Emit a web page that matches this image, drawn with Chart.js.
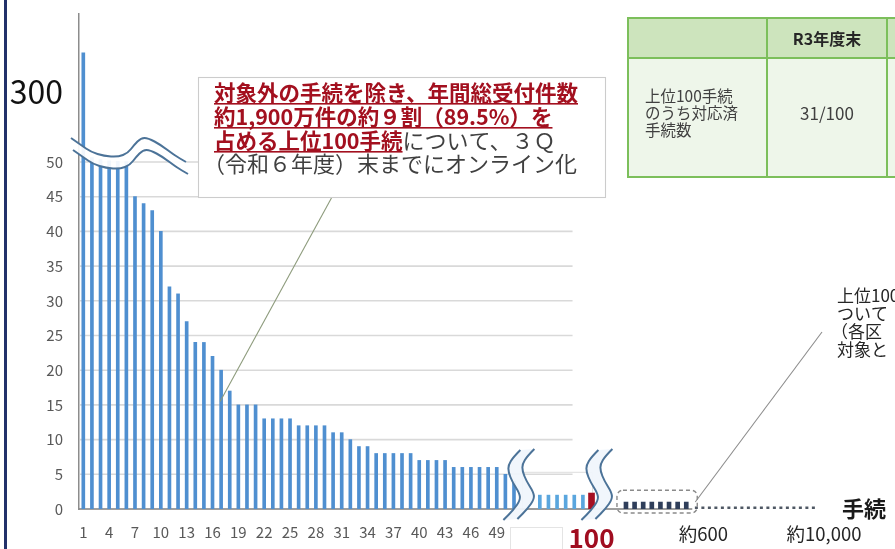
<!DOCTYPE html>
<html lang="ja">
<head>
<meta charset="utf-8">
<title>上位100手続のオンライン化</title>
<script src="https://cdn.jsdelivr.net/npm/chart.js@4.4.0/dist/chart.umd.min.js"></script>
<style>
  html, body { margin: 0; padding: 0; background: #fff; }
  canvas { display: block; }
</style>
</head>
<body>
<canvas id="procChart" width="895" height="549"></canvas>
<script>
// 手続ごとの年間受付件数（万件）: 上位51手続
const topCounts = [340, 120, 90, 70, 60, 55, 45, 44, 43, 40, 32, 31, 27, 24, 24, 22, 20, 17,
  15, 15, 15, 13, 13, 13, 13, 12, 12, 12, 12, 11, 11, 10, 9, 9, 8, 8, 8, 8, 8,
  7, 7, 7, 7, 6, 6, 6, 6, 6, 6, 5, 4];
// 94〜99位, 100位
const nearHundredCounts = [2, 2, 2, 2, 2, 2];
const hundredthCount = 2.3;
// 100位〜約600位（代表）
const beyondCounts = [1, 1, 1, 1, 1, 1, 1, 1];
// 約600位〜約10,000位
const tailLevel = 0.15;

const yTickValues = [0, 5, 10, 15, 20, 25, 30, 35, 40, 45, 50, 300];
const tailTickLabels = ['約600', '約10,000'];
const hundredRanks = ['94', '95', '96', '97', '98', '99', '100'];
const topRanks = topCounts.map((_, i) => String(i + 1));

function gap(n) {
  return Array(n).fill('');
}

// category slots along the x axis (gaps are the broken parts)
const categories = [].concat(topRanks, gap(2), hundredRanks, gap(3), gap(beyondCounts.length),
  gap(1), [tailTickLabels[0]], gap(13), [tailTickLabels[1]], gap(1));

const hundredStart = topRanks.length + 2;
const hundredIdx = hundredStart + nearHundredCounts.length;
const beyondStart = hundredIdx + 4;
const tailStart = beyondStart + beyondCounts.length;
const tailEnd = categories.indexOf(tailTickLabels[1]) - 1;

const blueData = categories.map((_, i) => {
  if (i < topCounts.length) return topCounts[i];
  if (i >= hundredStart && i < hundredIdx) return nearHundredCounts[i - hundredStart];
  return null;
});
const redData = categories.map((_, i) => (i === hundredIdx ? hundredthCount : null));
const darkData = categories.map((_, i) =>
  (i >= beyondStart && i < tailStart ? beyondCounts[i - beyondStart] : null));
const tailData = categories.map((_, i) => (i === tailStart || i === tailEnd ? tailLevel : null));

// Broken y axis: 0-50 linear, 50-240 squeezed, 240-380 linear again
const Y_LOW = 50, Y_HIGH = 240, Y_MAX = 380;
const LOW_SHARE = 0.701, BREAK_SHARE = 0.024;

function toDecimal(v) {
  if (v <= Y_LOW) return v / Y_LOW * LOW_SHARE;
  if (v <= Y_HIGH) return LOW_SHARE + (v - Y_LOW) / (Y_HIGH - Y_LOW) * BREAK_SHARE;
  return LOW_SHARE + BREAK_SHARE + (v - Y_HIGH) / (Y_MAX - Y_HIGH) * (1 - LOW_SHARE - BREAK_SHARE);
}

function fromDecimal(d) {
  if (d <= LOW_SHARE) return d / LOW_SHARE * Y_LOW;
  if (d <= LOW_SHARE + BREAK_SHARE) return Y_LOW + (d - LOW_SHARE) / BREAK_SHARE * (Y_HIGH - Y_LOW);
  return Y_HIGH + (d - LOW_SHARE - BREAK_SHARE) / (1 - LOW_SHARE - BREAK_SHARE) * (Y_MAX - Y_HIGH);
}

class BrokenScale extends Chart.LinearScale {
  getPixelForValue(value) {
    if (value === null || value === undefined) return NaN;
    return this.getPixelForDecimal(toDecimal(value));
  }
  getValueForPixel(pixel) {
    return fromDecimal(this.getDecimalForPixel(pixel));
  }
}
BrokenScale.id = 'broken';
BrokenScale.defaults = Chart.LinearScale.defaults;
Chart.register(BrokenScale);

const JP = '"Noto Sans CJK JP", "Noto Sans", sans-serif';
Chart.defaults.font.family = JP;

// Smooth curve through a list of points
function traceSmooth(ctx, pts, move) {
  if (move) ctx.moveTo(pts[0][0], pts[0][1]);
  else ctx.lineTo(pts[0][0], pts[0][1]);
  for (let i = 1; i < pts.length - 1; i++) {
    const mx = (pts[i][0] + pts[i + 1][0]) / 2;
    const my = (pts[i][1] + pts[i + 1][1]) / 2;
    ctx.quadraticCurveTo(pts[i][0], pts[i][1], mx, my);
  }
  const last = pts[pts.length - 1];
  ctx.lineTo(last[0], last[1]);
}

// Break symbol: two wavy lines with a light band between them
function drawBreak(ctx, ax, ay, shape, shift, fill) {
  const a = shape.map(p => [ax + p[0], ay + p[1]]);
  const b = shape.map(p => [ax + p[0] + shift[0], ay + p[1] + shift[1]]);
  ctx.save();
  ctx.beginPath();
  traceSmooth(ctx, a, true);
  traceSmooth(ctx, b.slice().reverse(), false);
  ctx.closePath();
  ctx.fillStyle = fill;
  ctx.fill();
  ctx.strokeStyle = '#4c7398';
  ctx.lineWidth = 2;
  ctx.beginPath();
  traceSmooth(ctx, a, true);
  ctx.stroke();
  ctx.beginPath();
  traceSmooth(ctx, b, true);
  ctx.stroke();
  ctx.restore();
}

const Y_WAVE = [[-8, -24], [2, -17], [12, -10], [25, -6], [39, -5], [49, -9], [55, -17],
  [62, -24], [69, -24], [82, -17], [95, -7], [107, 0]];
const X_WAVE = [[14, -59], [7, -52], [2, -44], [2, -37], [6, -27], [13, -16], [14, -9], [7, 1], [-3, 11]];

function line(ctx, x1, y1, x2, y2) {
  ctx.beginPath();
  ctx.moveTo(x1, y1);
  ctx.lineTo(x2, y2);
  ctx.stroke();
}

function roundRect(ctx, x, y, w, h, r) {
  ctx.beginPath();
  ctx.moveTo(x + r, y);
  ctx.arcTo(x + w, y, x + w, y + h, r);
  ctx.arcTo(x + w, y + h, x, y + h, r);
  ctx.arcTo(x, y + h, x, y, r);
  ctx.arcTo(x, y, x + w, y, r);
  ctx.closePath();
}

// Text with red bold underline
function underlined(ctx, text, x, y) {
  ctx.font = 'bold 21.5px ' + JP;
  ctx.fillStyle = '#a3101f';
  ctx.fillText(text, x, y);
  const w = ctx.measureText(text).width;
  ctx.fillRect(x, y + 10, w, 1.6);
  return w;
}

const decorations = {
  id: 'decorations',
  beforeDatasetsDraw(chart) {
    const { ctx, chartArea } = chart;
    const x = chart.scales.x, y = chart.scales.y;
    ctx.save();

    // page edge
    ctx.fillStyle = '#22316a';
    ctx.fillRect(4, 0, 3, chart.height);

    // gridlines (only on the left part)
    const gridEnd = x.getPixelForValue(56.8);
    ctx.strokeStyle = '#d9d9d9';
    ctx.lineWidth = 1.6;
    yTickValues.forEach(v => {
      if (v === 0 || v > Y_LOW) return;
      const py = y.getPixelForValue(v);
      line(ctx, chartArea.left + 1, py, gridEnd, py);
    });

    // faint frame around bars 94-100
    ctx.strokeStyle = '#dedede';
    ctx.lineWidth = 1;
    const fx = x.getPixelForValue(topRanks.length);
    const fr = x.getPixelForValue(hundredIdx) + 1;
    const ft = y.getPixelForValue(5) - 2;
    ctx.strokeRect(fx, ft, fr - fx, chartArea.bottom - ft);

    // x baseline
    ctx.strokeStyle = '#7f7f7f';
    ctx.lineWidth = 1.5;
    line(ctx, chartArea.left, chartArea.bottom, x.getPixelForValue(tailStart - 1) + 6, chartArea.bottom);
    ctx.restore();
  },
  afterDatasetsDraw(chart) {
    const { ctx, chartArea } = chart;
    const x = chart.scales.x, y = chart.scales.y;
    ctx.save();

    // breaks
    drawBreak(ctx, chartArea.left, y.getPixelForValue(Y_LOW), Y_WAVE, [2, 12], 'rgba(255,255,255,0.92)');
    drawBreak(ctx, x.getPixelForValue(topRanks.length - 2) + 1, chartArea.bottom, X_WAVE, [14, -1], 'rgba(240,246,252,0.95)');
    drawBreak(ctx, x.getPixelForValue(hundredIdx - 1) + 1.5, chartArea.bottom, X_WAVE, [14, -1], 'rgba(240,246,252,0.95)');

    // dashed box around the 100〜600 bars
    const bx = x.getPixelForValue(beyondStart) - 9;
    const br = x.getPixelForValue(tailStart - 1) + 11;
    const bt = y.getPixelForValue(2.7);
    ctx.setLineDash([4, 3]);
    ctx.strokeStyle = '#8a8a8a';
    ctx.lineWidth = 1.4;
    roundRect(ctx, bx, bt, br - bx, chartArea.bottom + 4 - bt, 6);
    ctx.stroke();
    ctx.setLineDash([]);

    // white cover under the first break
    const cx = x.getPixelForValue(topRanks.length - 1) - 4;
    ctx.fillStyle = '#fff';
    ctx.fillRect(cx, 527, 52, 24);
    ctx.strokeStyle = '#e4e4e4';
    ctx.lineWidth = 1;
    ctx.strokeRect(cx + 0.5, 527.5, 52, 24);

    // callout lines
    ctx.strokeStyle = '#8d9b7c';
    ctx.lineWidth = 1.1;
    line(ctx, 332, 197, x.getPixelForValue(16) - 1, y.getPixelForValue(15.5));
    ctx.strokeStyle = '#8c8c8c';
    line(ctx, br - 2, 502, 822, 332);

    // annotation box
    ctx.fillStyle = '#fff';
    ctx.fillRect(198, 77, 407, 120);
    ctx.strokeStyle = '#cccccc';
    ctx.strokeRect(198.5, 77.5, 407, 120);
    ctx.textBaseline = 'middle';
    ctx.textAlign = 'left';
    underlined(ctx, '対象外の手続を除き、年間総受付件数', 214, 93);
    underlined(ctx, '約1,900万件の約９割（89.5%）を', 214, 117);
    const w3 = underlined(ctx, '占める上位100手続', 214, 141);
    ctx.font = '22px ' + JP;
    ctx.fillStyle = '#404040';
    ctx.fillText('について、３Ｑ', 214 + w3, 141);
    ctx.fillText('（令和６年度）末までにオンライン化', 203, 164);

    // table at the top right
    ctx.fillStyle = '#cde4bd';
    ctx.fillRect(628, 18, 280, 40);
    ctx.fillStyle = '#eef6ea';
    ctx.fillRect(628, 58, 280, 119);
    ctx.strokeStyle = '#7cbf5b';
    ctx.lineWidth = 2;
    ctx.strokeRect(628, 18, 280, 159);
    line(ctx, 628, 58, 900, 58);
    line(ctx, 767, 18, 767, 177);
    line(ctx, 887, 18, 887, 177);
    ctx.fillStyle = '#262626';
    ctx.textAlign = 'center';
    ctx.font = 'bold 16px ' + JP;
    ctx.fillText('R3年度末', 827, 39);
    ctx.font = '17px ' + JP;
    ctx.fillStyle = '#404040';
    ctx.fillText('31/100', 827, 114);
    ctx.textAlign = 'left';
    ctx.font = '15.5px ' + JP;
    ctx.fillText('上位100手続', 645, 96);
    ctx.fillText('のうち対応済', 645, 113);
    ctx.fillText('手続数', 645, 130);

    // right-hand note (cut at the edge)
    ctx.fillStyle = '#262626';
    ctx.font = '17px ' + JP;
    ctx.fillText('上位100', 837, 296);
    ctx.fillText('ついて', 837, 314);
    ctx.fillText('（各区', 831, 332);
    ctx.fillText('対象と', 837, 350);

    // axis caption
    ctx.font = 'bold 22px ' + JP;
    ctx.fillStyle = '#1a1a1a';
    ctx.fillText('手続', 842, chartArea.bottom);
    ctx.restore();
  }
};

// drop the automatic label overhang padding so the plot area stays put
function noOverhang(scale) {
  scale.paddingTop = 0;
  scale.paddingBottom = 0;
  scale.paddingLeft = 0;
  scale.paddingRight = 0;
}

new Chart(document.getElementById('procChart'), {
  type: 'bar',
  data: {
    labels: categories,
    datasets: [
      {
        data: blueData,
        grouped: false,
        barThickness: 3,
        backgroundColor: ctx => (ctx.dataIndex > topCounts.length ? '#5aa6de' : '#4f8fd0'),
        borderWidth: 0
      },
      {
        data: redData,
        grouped: false,
        barThickness: 6,
        backgroundColor: '#a50f22',
        borderWidth: 0
      },
      {
        data: darkData,
        grouped: false,
        barThickness: 4,
        backgroundColor: '#2f3e5a',
        borderWidth: 0
      },
      {
        type: 'line',
        data: tailData,
        spanGaps: true,
        borderColor: '#4f5864',
        borderWidth: 3,
        borderDash: [3, 3.5],
        borderCapStyle: 'butt',
        pointRadius: 0
      }
    ]
  },
  options: {
    responsive: false,
    animation: false,
    devicePixelRatio: 1,
    layout: { padding: { top: 14, right: 58, left: 0, bottom: 0 } },
    plugins: {
      legend: { display: false },
      tooltip: { enabled: false }
    },
    scales: {
      x: {
        type: 'category',
        offset: true,
        grid: { display: false, drawTicks: false },
        border: { display: false },
        afterFit: scale => { scale.height = 40; noOverhang(scale); },
        ticks: {
          autoSkip: false,
          maxRotation: 0,
          padding: 14,
          callback: (value, index) => {
            const label = categories[index];
            if (index < topRanks.length) return index % 3 === 0 ? label : '';
            return label === '100' || label.startsWith('約') ? label : '';
          },
          font: c => {
            const label = categories[c.index];
            if (label === '100') return { size: 26, weight: 'bold' };
            if (label && label.startsWith('約')) return { size: 18.5 };
            return { size: 15 };
          },
          color: c => {
            const label = categories[c.index];
            if (label === '100') return '#a00d20';
            if (label && label.startsWith('約')) return '#262626';
            return '#595959';
          }
        }
      },
      y: {
        type: 'broken',
        min: 0,
        max: Y_MAX,
        grid: { display: false, drawTicks: false },
        border: { display: true, color: '#8c8c8c', width: 1.5 },
        afterFit: scale => { scale.width = 79; noOverhang(scale); },
        afterBuildTicks: scale => { scale.ticks = yTickValues.map(v => ({ value: v })); },
        ticks: {
          padding: 16,
          font: c => (c.tick && c.tick.value === 300 ? { size: 32 } : { size: 15 }),
          color: c => (c.tick && c.tick.value === 300 ? '#111111' : '#595959')
        }
      }
    }
  },
  plugins: [decorations]
});
</script>
</body>
</html>
